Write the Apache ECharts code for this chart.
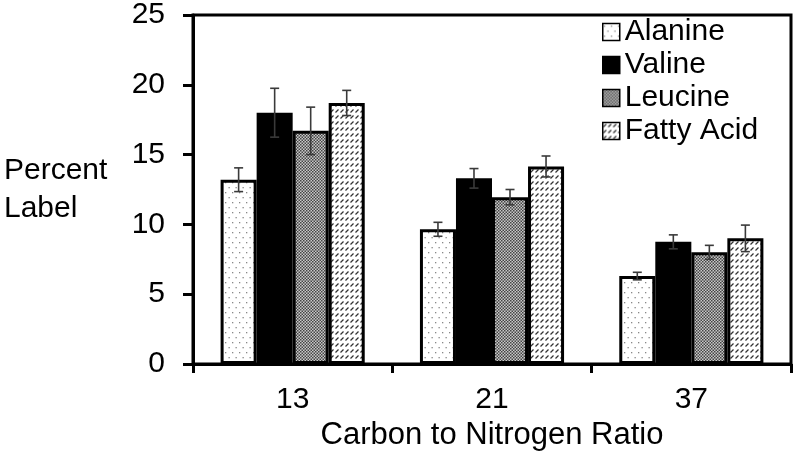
<!DOCTYPE html>
<html>
<head>
<meta charset="utf-8">
<script src="https://cdn.jsdelivr.net/npm/echarts@6/dist/echarts.min.js"></script>
<style>
html,body{margin:0;padding:0;background:#fff;}
#chart{width:797px;height:463px;}
</style>
</head>
<body>
<div id="chart"></div>
<script>
// ---- data ----
var categories = ['13', '21', '37'];
var seriesNames = ['Alanine', 'Valine', 'Leucine', 'Fatty Acid'];
var alanine = [13.2, 9.65, 6.3];
var valine = [18.0, 13.3, 8.75];
var leucine = [16.7, 11.95, 8.0];
var fattyAcid = [18.7, 14.15, 9.0];
var alanineErr = [0.85, 0.5, 0.27];
var valineErr = [1.75, 0.7, 0.5];
var leucineErr = [1.7, 0.55, 0.5];
var fattyAcidErr = [0.9, 0.75, 0.95];
var yTicks = [0, 5, 10, 15, 20, 25];

var FONT = '"Liberation Sans", Arial, sans-serif';
var BAR_CAT_GAP = 0.277;

// ---- patterns ----
function makeTile(w, h, draw) {
  var c = document.createElement('canvas');
  c.width = w; c.height = h;
  var ctx = c.getContext('2d');
  draw(ctx, w, h);
  return {image: c, repeat: 'repeat'};
}
var dotPattern = makeTile(7, 10, function (ctx, w, h) {
  ctx.fillStyle = '#fff'; ctx.fillRect(0, 0, w, h);
  ctx.fillStyle = '#888';
  ctx.fillRect(1, 2, 1.3, 1.3);
  ctx.fillRect(4.5, 7, 1.3, 1.3);
});
var checkPattern = makeTile(3, 3, function (ctx, w, h) {
  ctx.fillStyle = '#c8c8c8'; ctx.fillRect(0, 0, w, h);
  ctx.fillStyle = '#444';
  ctx.fillRect(0, 0, 1.5, 1.5);
  ctx.fillRect(1.5, 1.5, 1.5, 1.5);
});
var hatchPattern = makeTile(5, 6, function (ctx, w, h) {
  ctx.fillStyle = '#fff'; ctx.fillRect(0, 0, w, h);
  ctx.strokeStyle = '#333';
  ctx.lineWidth = 1.3;
  ctx.beginPath();
  ctx.moveTo(0.5, 4.5); ctx.lineTo(3.5, 1.5);
  ctx.stroke();
});

var values = [alanine, valine, leucine, fattyAcid];
var errors = [alanineErr, valineErr, leucineErr, fattyAcidErr];
var fills = [dotPattern, '#000', checkPattern, hatchPattern];

var series = [];
seriesNames.forEach(function (name, i) {
  series.push({
    name: name,
    type: 'bar',
    data: values[i],
    barGap: '0%',
    barCategoryGap: (BAR_CAT_GAP * 100) + '%',
    itemStyle: {color: fills[i], borderColor: '#000', borderWidth: 3},
    emphasis: {disabled: true},
    z: 2
  });
});
seriesNames.forEach(function (name, i) {
  series.push({
    name: name + ' err',
    type: 'custom',
    z: 5,
    silent: true,
    data: values[i].map(function (v, k) { return [k, v, errors[i][k]]; }),
    renderItem: function (params, api) {
      var k = api.value(0), v = api.value(1), e = api.value(2);
      var band = api.size([1, 0])[0];
      var barW = band * (1 - BAR_CAT_GAP) / 4;
      var c = api.coord([k, v]);
      var x = c[0] + (i - 1.5) * barW;
      var yt = api.coord([k, v + e])[1];
      var yb = api.coord([k, v - e])[1];
      var cap = 4.5;
      var st = {stroke: '#3a3a3a', lineWidth: 1.6};
      return {
        type: 'group',
        children: [
          {type: 'line', shape: {x1: x, y1: yt, x2: x, y2: yb}, style: st},
          {type: 'line', shape: {x1: x - cap, y1: yt, x2: x + cap, y2: yt}, style: st},
          {type: 'line', shape: {x1: x - cap, y1: yb, x2: x + cap, y2: yb}, style: st}
        ]
      };
    }
  });
});

var chart = echarts.init(document.getElementById('chart'), null, {renderer: 'canvas'});
chart.setOption({
  animation: false,
  backgroundColor: '#fff',
  textStyle: {fontFamily: FONT},
  grid: {left: 193, right: 6, top: 15, bottom: 99, show: true, borderColor: '#000', borderWidth: 3, backgroundColor: 'transparent'},
  legend: {
    data: seriesNames,
    orient: 'vertical',
    left: 597,
    top: 12,
    icon: 'rect',
    itemWidth: 17,
    itemHeight: 17,
    itemGap: 3,
    textStyle: {fontFamily: FONT, fontSize: 30, color: '#000'},
    itemStyle: {borderColor: '#000', borderWidth: 1.5},
    selectedMode: false
  },
  graphic: [{
    type: 'text',
    left: 4,
    top: 152,
    style: {text: 'Percent\nLabel', font: '30px ' + FONT, fill: '#000', align: 'center', lineHeight: 38, width: 102}
  }],
  xAxis: {
    type: 'category',
    data: categories,
    name: 'Carbon to Nitrogen Ratio',
    nameLocation: 'middle',
    nameGap: 45,
    nameTextStyle: {fontFamily: FONT, fontSize: 31, color: '#000'},
    axisLine: {lineStyle: {color: '#000', width: 3}},
    axisTick: {show: true, length: 9, lineStyle: {color: '#000', width: 3}},
    axisLabel: {fontFamily: FONT, fontSize: 30, color: '#000', margin: 21}
  },
  yAxis: {
    type: 'value',
    min: yTicks[0],
    max: yTicks[yTicks.length - 1],
    interval: yTicks[1] - yTicks[0],
    splitLine: {show: false},
    axisLine: {show: true, lineStyle: {color: '#000', width: 3}},
    axisTick: {show: true, length: 10, lineStyle: {color: '#000', width: 3}},
    axisLabel: {fontFamily: FONT, fontSize: 30, color: '#000', margin: 28}
  },
  series: series
});
</script>
</body>
</html>
